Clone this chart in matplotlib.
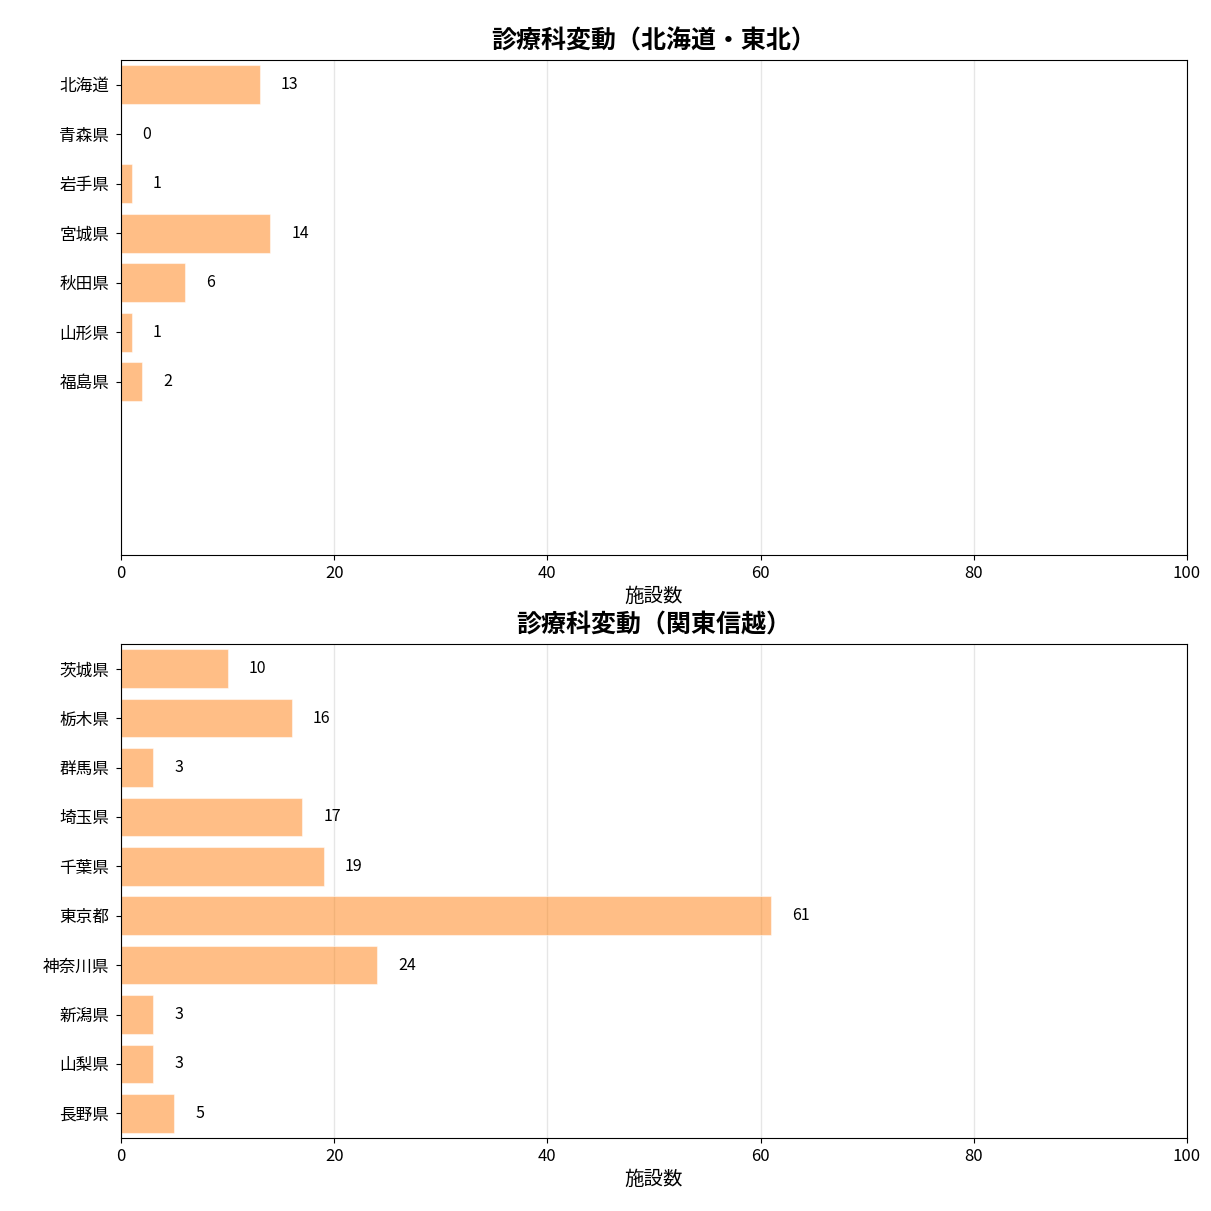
import matplotlib
matplotlib.use('Agg')
import matplotlib.pyplot as plt

plt.rcParams['font.family'] = ['Noto Sans CJK JP', 'DejaVu Sans']

# 北海道・東北
pref_tohoku = ['北海道', '青森県', '岩手県', '宮城県', '秋田県', '山形県', '福島県']
count_tohoku = [13, 0, 1, 14, 6, 1, 2]

# 関東信越
pref_kanto = ['茨城県', '栃木県', '群馬県', '埼玉県', '千葉県', '東京都',
              '神奈川県', '新潟県', '山梨県', '長野県']
count_kanto = [10, 16, 3, 17, 19, 61, 24, 3, 3, 5]

titles = ['診療科変動（北海道・東北）', '診療科変動（関東信越）']

fig = plt.figure(figsize=(12.11, 12.11), dpi=100)
ax1 = fig.add_axes([121/1211, 1 - 555/1211, 1066/1211, 495/1211])
ax2 = fig.add_axes([121/1211, 1 - 1138/1211, 1066/1211, 494/1211])

for ax, prefs, counts, title in [(ax1, pref_tohoku, count_tohoku, titles[0]),
                                 (ax2, pref_kanto, count_kanto, titles[1])]:
    ypos = list(range(len(prefs)))
    ax.barh(ypos, counts, height=0.78, color='#ff7f0e', alpha=0.5,
            edgecolor='white', linewidth=0.8, zorder=2)
    for y, v in zip(ypos, counts):
        ax.text(v + 2, y, str(v), va='center', ha='left', fontsize=11.5)
    ax.set_yticks(ypos)
    ax.set_yticklabels(prefs, fontsize=12)
    ax.tick_params(axis='y', pad=5)
    ax.set_ylim(9.5, -0.5)
    ax.set_xlim(0, 100)
    ax.set_xticks([0, 20, 40, 60, 80, 100])
    ax.tick_params(axis='x', labelsize=12)
    ax.grid(axis='x', color='#e6e6e6', linewidth=1, zorder=0)
    ax.set_axisbelow(True)
    ax.set_xlabel('施設数', fontsize=14, labelpad=3)
    ax.set_title(title, fontsize=18, fontweight='bold', pad=8)

fig.savefig('out.png', dpi=100)
